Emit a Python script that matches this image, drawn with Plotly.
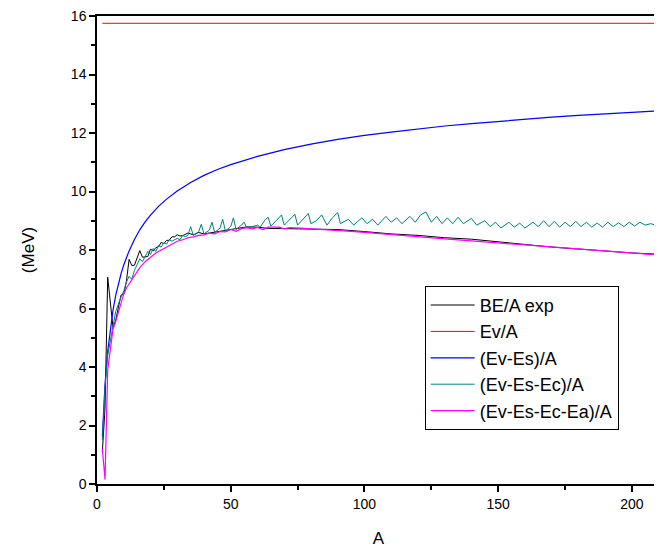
import plotly.graph_objects as go

# Mass number values and binding energy per nucleon (MeV)
expA = [2, 3, 4, 6, 7, 9, 10, 11, 12, 13, 14, 15, 16, 17, 18, 19, 20, 21, 22, 23, 24, 25, 26, 27, 28,
        29, 30, 31, 32, 34, 36, 38, 40, 45, 50, 56, 60, 64, 70, 80, 90, 100, 110, 120, 130, 140, 150,
        160, 170, 180, 190, 200, 209]
expBE = [1.11, 2.57, 7.07, 5.33, 5.61, 6.46, 6.48, 6.93, 7.68, 7.47, 7.48, 7.70, 7.98, 7.75, 7.77,
         7.78, 8.03, 7.97, 8.08, 8.11, 8.26, 8.22, 8.33, 8.33, 8.45, 8.45, 8.52, 8.48, 8.49, 8.58,
         8.52, 8.60, 8.55, 8.62, 8.70, 8.79, 8.78, 8.74, 8.73, 8.71, 8.70, 8.63, 8.55, 8.50, 8.42,
         8.37, 8.27, 8.19, 8.10, 8.03, 7.95, 7.90, 7.86]

volA = [2, 209]
volBE = [15.75, 15.75]

surfA = [2, 3, 4, 5, 6, 7, 8, 9, 10, 12, 14, 16, 18, 20, 23, 26, 30, 35, 40, 45, 50, 60, 70, 80, 90,
         100, 110, 120, 130, 140, 150, 160, 170, 180, 190, 200, 209]
surfBE = [1.62, 3.41, 4.54, 5.34, 5.95, 6.45, 6.85, 7.19, 7.49, 7.97, 8.36, 8.69, 8.96, 9.19, 9.49,
          9.74, 10.02, 10.31, 10.55, 10.75, 10.92, 11.20, 11.43, 11.62, 11.78, 11.92, 12.03, 12.14,
          12.24, 12.32, 12.40, 12.47, 12.54, 12.60, 12.65, 12.71, 12.75]

coulA = [2, 3, 4, 6, 7, 9, 10, 11, 12, 13, 14, 15, 16, 17, 18, 19, 20, 21, 22, 23, 24, 25, 26, 27,
         28, 30, 31, 32, 33, 34, 35, 36, 38, 39, 40, 42, 43, 44, 46, 47, 48, 50, 51, 52, 54, 55, 56,
         58, 60, 61, 63, 64, 65, 67, 69, 70, 72, 74, 75, 77, 79, 80, 82, 84, 86, 88, 90, 91, 94, 96,
         99, 101, 103, 105, 108, 110, 112, 114, 117, 119, 121, 123, 125, 127, 129, 131, 133, 135,
         137, 140, 142, 145, 147, 149, 151, 154, 156, 158, 160, 163, 165, 167, 169, 171, 173, 175,
         177, 179, 181, 183, 185, 187, 189, 191, 193, 195, 197, 199, 201, 203, 205, 207, 209]
coulBE = [1.50, 3.30, 4.40, 5.50, 5.90, 6.40, 6.60, 6.90, 7.10, 7.00, 7.30, 7.50, 7.70, 7.60, 7.80,
          7.95, 7.85, 8.05, 7.95, 8.15, 8.10, 8.25, 8.20, 8.35, 8.30, 8.40, 8.35, 8.50, 8.45, 8.50,
          8.80, 8.50, 8.62, 8.88, 8.55, 8.68, 8.95, 8.60, 8.75, 9.05, 8.65, 8.80, 9.10, 8.70, 8.85,
          8.95, 8.75, 8.80, 8.85, 8.78, 9.05, 9.12, 8.82, 9.00, 9.20, 8.85, 9.05, 9.22, 8.85, 9.05,
          9.25, 8.90, 9.00, 9.20, 8.85, 9.10, 9.28, 8.90, 9.05, 8.85, 9.10, 8.90, 9.05, 8.85, 9.15,
          8.95, 9.10, 8.90, 9.15, 8.95, 9.20, 9.30, 8.95, 9.15, 8.90, 9.10, 8.90, 9.12, 8.90, 9.08,
          8.85, 9.00, 8.80, 8.95, 8.75, 8.95, 8.78, 8.92, 8.75, 8.95, 8.80, 9.00, 8.80, 8.98, 8.78,
          8.95, 8.80, 8.98, 8.80, 8.95, 8.78, 8.92, 8.78, 8.95, 8.80, 8.93, 8.80, 8.95, 8.82, 8.95,
          8.85, 8.90, 8.85]

asymA = [2, 3, 4, 6, 7, 9, 10, 11, 12, 14, 16, 18, 20, 22, 24, 26, 28, 30, 32, 34, 36, 38, 40, 42,
         44, 46, 48, 50, 52, 54, 56, 58, 60, 62, 64, 68, 70, 72, 76, 80, 85, 90, 95, 100, 110, 120,
         130, 140, 150, 160, 170, 180, 190, 200, 209]
asymBE = [1.20, 0.15, 3.90, 5.30, 5.55, 6.25, 6.50, 6.70, 6.85, 7.15, 7.40, 7.60, 7.75, 7.90, 8.00,
          8.10, 8.20, 8.30, 8.35, 8.42, 8.45, 8.50, 8.52, 8.58, 8.55, 8.63, 8.62, 8.70, 8.64, 8.73,
          8.76, 8.72, 8.77, 8.70, 8.78, 8.78, 8.72, 8.77, 8.75, 8.73, 8.70, 8.68, 8.64, 8.60, 8.52,
          8.45, 8.38, 8.31, 8.24, 8.16, 8.09, 8.02, 7.95, 7.89, 7.84]

FONTNAME = 'Liberation Sans, Arial, sans-serif'


#
# One line trace per term of the mass formula
#
def addCurves(fig):

    fig.add_trace(go.Scatter(x=expA, y=expBE, mode='lines', name='BE/A exp',
                             line=dict(color='black', width=1)))
    fig.add_trace(go.Scatter(x=volA, y=volBE, mode='lines', name='Ev/A',
                             line=dict(color='#ff0000', width=1)))
    fig.add_trace(go.Scatter(x=surfA, y=surfBE, mode='lines', name='(Ev-Es)/A',
                             line=dict(color='#0000ff', width=1.2)))
    fig.add_trace(go.Scatter(x=coulA, y=coulBE, mode='lines', name='(Ev-Es-Ec)/A',
                             line=dict(color='#008080', width=1)))
    fig.add_trace(go.Scatter(x=asymA, y=asymBE, mode='lines', name='(Ev-Es-Ec-Ea)/A',
                             line=dict(color='#ff00ff', width=1.2)))


#
# Boxed axes with outside ticks, like the original plot
# (the page body has an 8px margin, so the figure is a bit smaller than the window)
#
def styleFigure(fig):

    axisStyle = dict(showline=True, linecolor='black', linewidth=1.5, mirror=True,
                     ticks='outside', ticklen=6, tickwidth=1.5, tickcolor='black',
                     showgrid=False, zeroline=False, automargin=False,
                     ticklabeloverflow='allow',
                     tickfont=dict(family=FONTNAME, size=14, color='black'))

    fig.update_xaxes(axisStyle, range=[0, 210.5], dtick=50, tick0=0,
                     minor=dict(dtick=25, ticks='outside', ticklen=4, tickcolor='black'),
                     title=dict(text='A', standoff=22, font=dict(family=FONTNAME, size=17, color='black')))
    fig.update_yaxes(axisStyle, range=[0, 16], dtick=2, tick0=0,
                     minor=dict(dtick=1, ticks='outside', ticklen=4, tickcolor='black'),
                     title=dict(text='(MeV)', standoff=32, font=dict(family=FONTNAME, size=17, color='black')))

    fig.update_layout(width=654, height=542,
                      margin=dict(l=89, r=2, t=8, b=66),
                      plot_bgcolor='white', paper_bgcolor='white',
                      legend=dict(x=0.582, y=0.4235, xanchor='left', yanchor='top',
                                  bordercolor='black', borderwidth=1, bgcolor='white',
                                  itemwidth=44,
                                  font=dict(family=FONTNAME, size=18, color='black'),
                                  tracegroupgap=0))


def mainFunction():
    fig = go.Figure()
    addCurves(fig)
    styleFigure(fig)
    fig.write_html("out.html")

mainFunction()
